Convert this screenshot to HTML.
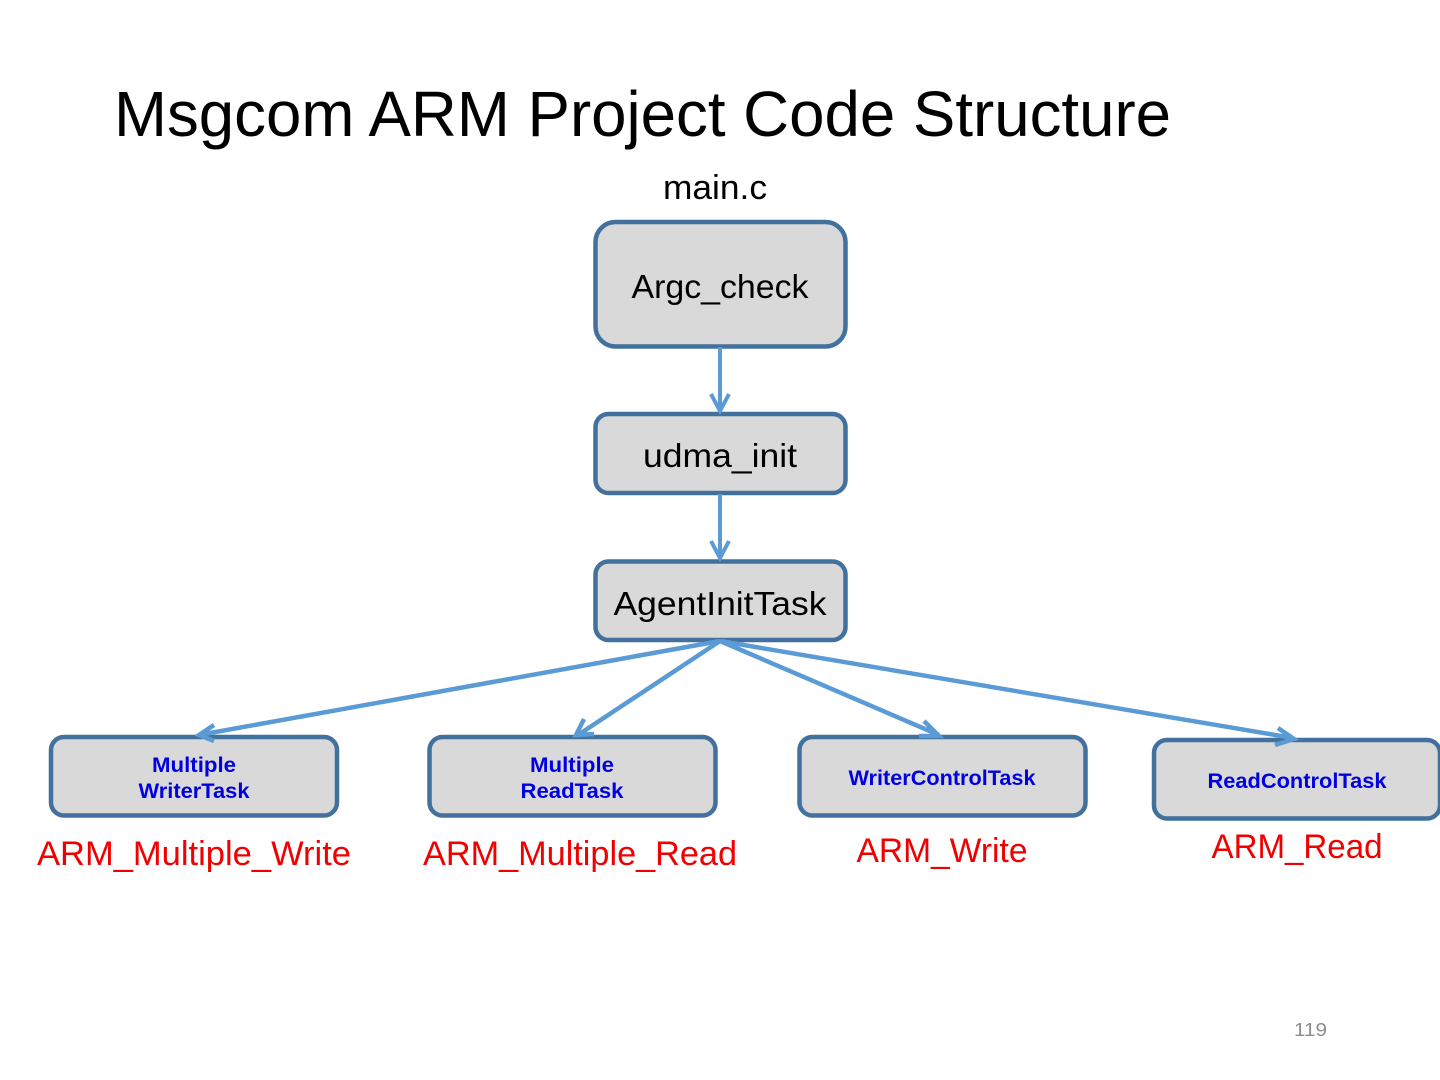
<!DOCTYPE html>
<html>
<head>
<meta charset="utf-8">
<style>
html,body{margin:0;padding:0;background:#fff;width:1440px;height:1080px;overflow:hidden}
svg{display:block}
text{font-family:"Liberation Sans",sans-serif}
</style>
</head>
<body>
<svg width="1440" height="1080" viewBox="0 0 1440 1080" xmlns="http://www.w3.org/2000/svg">
<rect width="1440" height="1080" fill="#fff"/>
<text x="114" y="136" font-size="64" fill="#000" textLength="1057" lengthAdjust="spacingAndGlyphs">Msgcom ARM Project Code Structure</text>
<text x="663" y="199" font-size="34" fill="#000" textLength="104" lengthAdjust="spacingAndGlyphs">main.c</text>

<g fill="#d9d9d9" stroke="#41719c" stroke-width="4.5">
<rect x="595.5" y="222" width="250" height="124.5" rx="20"/>
<rect x="595.5" y="414" width="250" height="79" rx="13"/>
<rect x="595.5" y="561.5" width="250" height="78.5" rx="13"/>
<rect x="51" y="737" width="286" height="78.5" rx="13"/>
<rect x="429.5" y="737" width="286" height="78.5" rx="13"/>
<rect x="799.5" y="737" width="286" height="78.5" rx="13"/>
<rect x="1154" y="740" width="286" height="78.5" rx="13"/>
</g>

<g fill="none" stroke="#5b9bd5" stroke-width="4">
<path d="M720 347V411M711 394L720 411L729 394"/>
<path d="M720 494V558M711 541L720 558L729 541"/>
</g>
<g fill="none" stroke="#5b9bd5" stroke-width="4.5">
<path d="M720 641L199 735M214 725L199 735L214 741"/>
<path d="M720 641L578 735M584 719L576 735L594 734"/>
<path d="M720 641L939 735M924 721L939 736L919 736"/>
<path d="M720 641L1293 738M1278 728L1294 739L1275 745"/>
</g>

<g font-size="33" fill="#000" text-anchor="middle">
<text x="720" y="298" textLength="177" lengthAdjust="spacingAndGlyphs">Argc_check</text>
<text x="720" y="467" textLength="154" lengthAdjust="spacingAndGlyphs">udma_init</text>
<text x="720" y="615" textLength="213" lengthAdjust="spacingAndGlyphs">AgentInitTask</text>
</g>

<g font-size="21" font-weight="bold" fill="#0000e0" text-anchor="middle">
<text x="194" y="772" textLength="84" lengthAdjust="spacingAndGlyphs">Multiple</text>
<text x="194" y="798" textLength="111" lengthAdjust="spacingAndGlyphs">WriterTask</text>
<text x="572" y="772" textLength="84" lengthAdjust="spacingAndGlyphs">Multiple</text>
<text x="572" y="798" textLength="103" lengthAdjust="spacingAndGlyphs">ReadTask</text>
<text x="942" y="785" textLength="187" lengthAdjust="spacingAndGlyphs">WriterControlTask</text>
<text x="1297" y="788" textLength="179" lengthAdjust="spacingAndGlyphs">ReadControlTask</text>
</g>

<g font-size="34" fill="#f00000" text-anchor="middle">
<text x="194" y="865" textLength="314" lengthAdjust="spacingAndGlyphs">ARM_Multiple_Write</text>
<text x="580" y="865" textLength="314" lengthAdjust="spacingAndGlyphs">ARM_Multiple_Read</text>
<text x="942" y="862" textLength="171" lengthAdjust="spacingAndGlyphs">ARM_Write</text>
<text x="1297" y="858" textLength="171" lengthAdjust="spacingAndGlyphs">ARM_Read</text>
</g>

<text x="1294" y="1036" font-size="18" fill="#8c8c8c" textLength="33" lengthAdjust="spacingAndGlyphs">119</text>
</svg>
</body>
</html>
